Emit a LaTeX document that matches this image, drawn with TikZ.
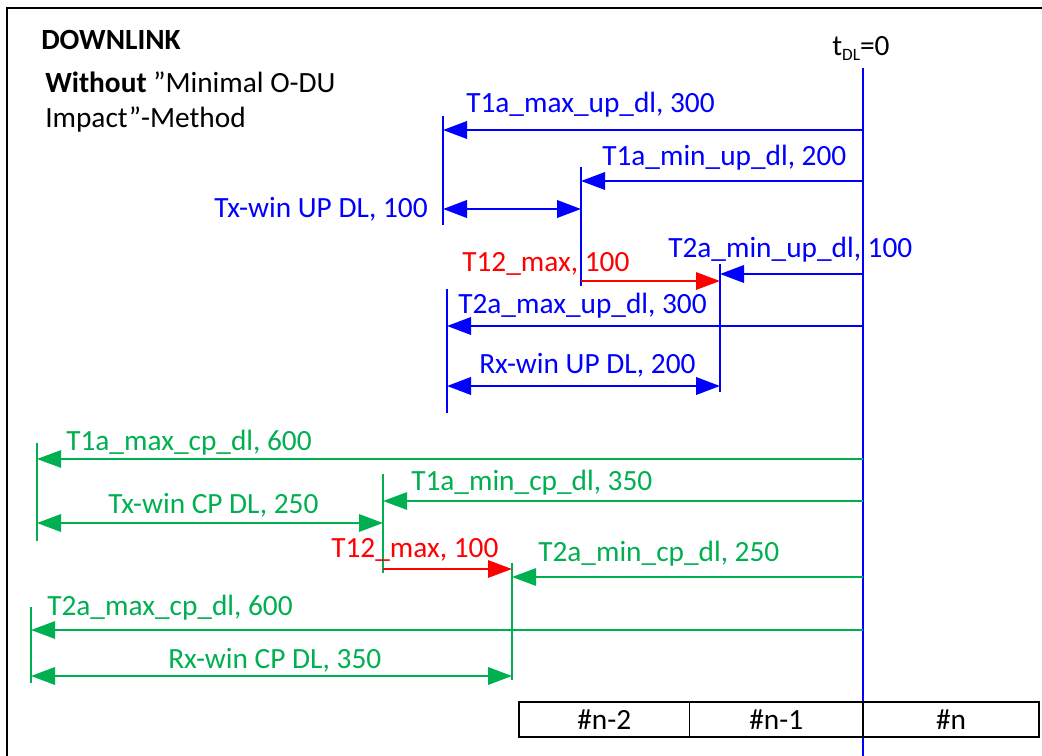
\documentclass[tikz,border=0pt]{standalone}
\usepackage{fontspec}
\setmainfont{Carlito}
\usetikzlibrary{arrows.meta}
\definecolor{dlblue}{RGB}{0,0,255}
\definecolor{dlgreen}{RGB}{0,176,80}
\definecolor{dlred}{RGB}{255,0,0}
\begin{document}
\begin{tikzpicture}[x=0.75pt,y=-0.75pt,
  lbl/.style={inner sep=0pt, anchor=base west, font=\fontsize{22}{26}\selectfont},
  blbl/.style={lbl, text=dlblue},
  glbl/.style={lbl, text=dlgreen},
  rlbl/.style={lbl, text=dlred},
  tip/.style={-{Triangle[length=18pt,width=13pt]}},
  dtip/.style={{Triangle[length=18pt,width=13pt]}-{Triangle[length=18pt,width=13pt]}},
  btick/.style={draw=dlblue, line width=1.9pt},
  barr/.style={draw=dlblue, fill=dlblue, line width=1.8pt},
  gtick/.style={draw=dlgreen, line width=1.5pt},
  garr/.style={draw=dlgreen, fill=dlgreen, line width=1.3pt},
  rarr/.style={draw=dlred, fill=dlred, line width=1.5pt},
  cell/.style={draw=black, line width=1.4pt, minimum height=26.25pt, inner sep=0pt, font=\fontsize{22}{26}\selectfont}
]
\useasboundingbox (0,0) rectangle (1042,756);
\clip (0,0) rectangle (1042,756);
\draw[line width=1.6pt] (7,800) -- (7,8) -- (1100,8);

% titles
\node[lbl, font=\fontsize{22}{26}\selectfont\bfseries] (title) at (41,50) {DOWNLINK};
\node[lbl] (sub1) at (45,93) {\textbf{Without} ”Minimal O-DU};
\node[lbl] (sub2) at (45,128) {Impact”-Method};
\node[lbl] (tdl) at (832,56) {t\raisebox{-0.35ex}{\fontsize{13}{13}\selectfont DL}=0};

% main time line
\coordinate (mtop) at (863,68);
\coordinate (mbot) at (863,760);
\draw[btick, line width=2.1pt] (mtop) -- (mbot);

% blue ticks
\coordinate (b1t) at (443,116); \coordinate (b1b) at (443,225);
\coordinate (b2t) at (581,167); \coordinate (b2b) at (581,286);
\coordinate (b3t) at (720,264); \coordinate (b3b) at (720,392);
\coordinate (b4t) at (447,289); \coordinate (b4b) at (447,413);
\draw[btick] (b1t) -- (b1b);
\draw[btick] (b2t) -- (b2b);
\draw[btick] (b3t) -- (b3b);
\draw[btick] (b4t) -- (b4b);

% blue arrows
\coordinate (mA1) at (863,130); \coordinate (eA1) at (443,130);
\coordinate (mA2) at (863,181); \coordinate (eA2) at (581,181);
\coordinate (sTx) at (443,209); \coordinate (eTx) at (581,209);
\coordinate (mA3) at (863,274); \coordinate (eA3) at (720,274);
\coordinate (sR1) at (581,281); \coordinate (eR1) at (720,281);
\coordinate (mA4) at (863,326); \coordinate (eA4) at (447,326);
\coordinate (sRx) at (447,386); \coordinate (eRx) at (720,386);
\draw[barr, tip] (mA1) -- (eA1);
\draw[barr, tip] (mA2) -- (eA2);
\draw[barr, dtip, line width=2.1pt] (sTx) -- (eTx);
\draw[barr, tip] (mA3) -- (eA3);
\draw[rarr, tip] (sR1) -- (eR1);
\draw[barr, tip] (mA4) -- (eA4);
\draw[barr, dtip, line width=2.1pt] (sRx) -- (eRx);

\node[blbl] (lA1) at (466,113) {T1a\_max\_up\_dl, 300};
\node[blbl] (lA2) at (602,166) {T1a\_min\_up\_dl, 200};
\node[blbl, anchor=base east] (lTx) at (428,218) {Tx-win UP DL, 100};
\node[blbl] (lA3) at (668,257) {T2a\_min\_up\_dl, 100};
\node[rlbl] (lR1) at (462,271) {T12\_max, 100};
\node[blbl] (lA4) at (458,313) {T2a\_max\_up\_dl, 300};
\node[blbl] (lRx) at (479,373) {Rx-win UP DL, 200};

% green ticks
\coordinate (g1t) at (37,443); \coordinate (g1b) at (37,541);
\coordinate (g2t) at (383,474); \coordinate (g2b) at (383,573);
\coordinate (g3t) at (512,563); \coordinate (g3b) at (512,680);
\coordinate (g4t) at (31,607); \coordinate (g4b) at (31,683);
\draw[gtick] (g1t) -- (g1b);
\draw[gtick] (g2t) -- (g2b);
\draw[gtick] (g3t) -- (g3b);
\draw[gtick] (g4t) -- (g4b);

% green arrows
\coordinate (mG1) at (863,459); \coordinate (eG1) at (37,459);
\coordinate (mG2) at (863,501); \coordinate (eG2) at (383,501);
\coordinate (sGTx) at (37,523); \coordinate (eGTx) at (383,523);
\coordinate (sR2) at (383,569); \coordinate (eR2) at (512,569);
\coordinate (mG3) at (863,577); \coordinate (eG3) at (512,577);
\coordinate (mG4) at (863,630); \coordinate (eG4) at (31,630);
\coordinate (sGRx) at (31,676); \coordinate (eGRx) at (512,676);
\draw[garr, tip] (mG1) -- (eG1);
\draw[garr, tip] (mG2) -- (eG2);
\draw[garr, dtip, line width=1.9pt] (sGTx) -- (eGTx);
\draw[rarr, tip] (sR2) -- (eR2);
\draw[garr, tip] (mG3) -- (eG3);
\draw[garr, tip] (mG4) -- (eG4);
\draw[garr, dtip, line width=1.9pt] (sGRx) -- (eGRx);

\node[glbl] (lG1) at (66,450) {T1a\_max\_cp\_dl, 600};
\node[glbl] (lG2) at (411,490) {T1a\_min\_cp\_dl, 350};
\node[glbl] (lGTx) at (108,513) {Tx-win CP DL, 250};
\node[rlbl] (lR2) at (331,557) {T12\_max, 100};
\node[glbl] (lG3) at (538,561) {T2a\_min\_cp\_dl, 250};
\node[glbl] (lG4) at (47,615) {T2a\_max\_cp\_dl, 600};
\node[glbl] (lGRx) at (168,668) {Rx-win CP DL, 350};

% slot boxes
\node[cell, minimum width=127.9pt] (c1) at (604.25,719.5) {\#n-2};
\node[cell, minimum width=130.1pt] (c2) at (776.25,719.5) {\#n-1};
\node[cell, minimum width=132pt] (c3) at (951,719.5) {\#n};
\end{tikzpicture}
\end{document}
